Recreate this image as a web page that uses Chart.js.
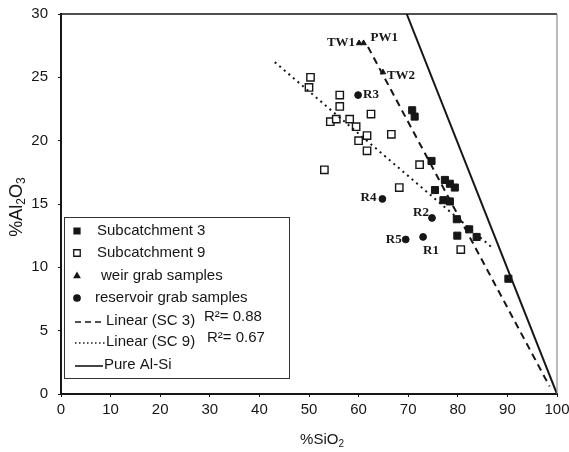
<!DOCTYPE html>
<html>
<head>
<meta charset="utf-8">
<script src="https://cdn.jsdelivr.net/npm/chart.js@4.4.1/dist/chart.umd.min.js"></script>
<style>
  html, body { margin: 0; padding: 0; background: #fff; }
  #wrap { width: 569px; height: 452px; }
</style>
</head>
<body>
<div id="wrap"><canvas id="chart" width="569" height="452"></canvas></div>
<script>
/* ── Datos ────────────────────────────────────────── */
const xTicks = [0, 10, 20, 30, 40, 50, 60, 70, 80, 90, 100];
const yTicks = [0, 5, 10, 15, 20, 25, 30];

// Subcatchment 3 (cuadros rellenos)
const sc3X = [70.8, 71.3, 74.7, 75.4, 77.4, 78.4, 79.4, 77.1, 78.4, 79.8, 79.9, 82.3, 83.8, 90.2];
const sc3Y = [22.4, 21.9, 18.4, 16.1, 16.9, 16.6, 16.3, 15.3, 15.2, 13.8, 12.5, 13.0, 12.4, 9.1];

// Subcatchment 9 (cuadros vacíos)
const sc9X = [50.3, 50.0, 56.2, 56.2, 54.3, 55.5, 58.2, 59.5, 62.5, 61.7, 60.0, 61.7, 66.6, 53.1, 72.3, 68.2, 80.6];
const sc9Y = [25.0, 24.2, 23.6, 22.7, 21.5, 21.7, 21.7, 21.1, 22.1, 20.4, 20.0, 19.2, 20.5, 17.7, 18.1, 16.3, 11.4];

// weir grab samples
const weirNames = ['TW1', 'PW1', 'TW2'];
const weirX = [60.1, 61.0, 64.9];
const weirY = [27.7, 27.7, 25.4];

// reservoir grab samples
const resNames = ['R1', 'R2', 'R3', 'R4', 'R5'];
const resX = [73.0, 74.8, 59.9, 64.8, 69.5];
const resY = [12.4, 13.9, 23.6, 15.4, 12.2];

// líneas de tendencia
const sc3FitX = [61.9, 98.5], sc3FitY = [27.4, 0.6];
const sc9FitX = [43.1, 87.1], sc9FitY = [26.2, 11.5];
const pureX = [69.7, 100], pureY = [30, 0];

const legendLabels = ['Subcatchment 3', 'Subcatchment 9', 'weir grab samples', 'reservoir grab samples',
                      'Linear (SC 3)', 'Linear (SC 9)', 'Pure Al-Si'];
const r2Labels = ['', '', '', '', 'R\u00B2= 0.88', 'R\u00B2= 0.67', ''];

/* ── Estilos ──────────────────────────────────────── */
const INK = '#161616';
const SANS = '"Liberation Sans", Arial, sans-serif';
const SERIF = '"Liberation Serif", "Times New Roman", serif';

// desplazamiento de cada etiqueta respecto a su punto: [dx, dy, align]
const weirLabelPos = [[-4, 0, 'right'], [7, -5, 'left'], [4, 3, 'left']];
const resLabelPos  = [[0, 14, 'left'], [-3, -5, 'right'], [5, 0, 'left'], [-6, -1, 'right'], [-4, 0, 'right']];

const pts = (xs, ys) => xs.map((x, i) => ({ x, y: ys[i] }));

const lineDs = (label, data, dash, width) => ({
  label, data, showLine: true, borderColor: INK, borderWidth: width,
  borderDash: dash, pointRadius: 0, fill: false
});

/* ── Plugins ──────────────────────────────────────── */
const frame = {
  id: 'frame',
  afterDraw(chart) {
    const { ctx, chartArea: a } = chart;
    ctx.save();
    ctx.strokeStyle = INK;
    ctx.lineWidth = 1.5;
    ctx.beginPath();
    ctx.moveTo(a.left, a.top); ctx.lineTo(a.right, a.top);
    ctx.stroke();
    ctx.strokeStyle = '#777';
    ctx.lineWidth = 1;
    ctx.beginPath();
    ctx.moveTo(a.right, a.top); ctx.lineTo(a.right, a.bottom);
    ctx.stroke();
    ctx.restore();
  }
};

const pointLabels = {
  id: 'pointLabels',
  afterDatasetsDraw(chart) {
    const { ctx } = chart;
    ctx.save();
    ctx.font = 'bold 13px ' + SERIF;
    ctx.fillStyle = INK;
    ctx.textBaseline = 'middle';
    const put = (dsIndex, names, pos) => {
      chart.getDatasetMeta(dsIndex).data.forEach((el, i) => {
        const [dx, dy, align] = pos[i];
        ctx.textAlign = align;
        ctx.fillText(names[i], el.x + dx, el.y + dy);
      });
    };
    put(5, weirNames, weirLabelPos);
    put(6, resNames, resLabelPos);
    ctx.restore();
  }
};

const boxLegend = {
  id: 'boxLegend',
  afterDraw(chart) {
    const { ctx } = chart;
    const H = Chart.helpers;
    const bx = 64, by = 217, bw = 225, bh = 161;
    const rows = [231, 253, 276, 298, 321, 342, 365];
    const textX = [97, 97, 101, 95, 106, 106, 104];
    const mx = 77;
    ctx.save();
    ctx.fillStyle = '#fff';
    ctx.fillRect(bx, by, bw, bh);
    ctx.strokeStyle = '#333';
    ctx.lineWidth = 1;
    ctx.strokeRect(bx + 0.5, by + 0.5, bw, bh);

    // marcadores
    const mark = (i, style, radius, fill) => {
      ctx.fillStyle = fill;
      ctx.strokeStyle = INK;
      ctx.lineWidth = 1.3;
      H.drawPoint(ctx, { pointStyle: style, radius, borderWidth: 1.3, rotation: 0 }, mx, rows[i]);
    };
    mark(0, 'rect', 4.2, INK);
    mark(1, 'rect', 4.6, '#fff');
    mark(2, 'triangle', 3.2, INK);
    mark(3, 'circle', 3.2, INK);

    // muestras de línea
    const sample = (i, dash, x1) => {
      ctx.strokeStyle = INK;
      ctx.lineWidth = 1.6;
      ctx.setLineDash(dash);
      ctx.beginPath();
      ctx.moveTo(75, rows[i] + 1); ctx.lineTo(x1, rows[i] + 1);
      ctx.stroke();
    };
    sample(4, [6, 4], 105);
    sample(5, [1.5, 2.5], 105);
    sample(6, [], 103);
    ctx.setLineDash([]);

    ctx.fillStyle = INK;
    ctx.font = '15px ' + SANS;
    ctx.textBaseline = 'middle';
    ctx.textAlign = 'left';
    legendLabels.forEach((t, i) => ctx.fillText(t, textX[i], rows[i]));
    ctx.fillText(r2Labels[4], 204, rows[4] - 4);
    ctx.fillText(r2Labels[5], 207, rows[5] - 4);
    ctx.restore();
  }
};

// texto con subíndices: [[texto, esSub], ...]
function drawSubText(ctx, parts, size) {
  const subSize = Math.round(size * 0.68);
  let total = 0;
  parts.forEach(([t, sub]) => {
    ctx.font = (sub ? subSize : size) + 'px ' + SANS;
    total += ctx.measureText(t).width;
  });
  let x = -total / 2;
  parts.forEach(([t, sub]) => {
    ctx.font = (sub ? subSize : size) + 'px ' + SANS;
    ctx.fillText(t, x, sub ? size * 0.28 : 0);
    x += ctx.measureText(t).width;
  });
}

const axisTitles = {
  id: 'axisTitles',
  afterDraw(chart) {
    const { ctx } = chart;
    ctx.save();
    ctx.fillStyle = INK;
    ctx.textAlign = 'left';
    ctx.textBaseline = 'middle';
    ctx.translate(322, 440);
    drawSubText(ctx, [['%SiO', false], ['2', true]], 15);
    ctx.restore();

    ctx.save();
    ctx.fillStyle = INK;
    ctx.textAlign = 'left';
    ctx.textBaseline = 'middle';
    ctx.translate(17, 207);
    ctx.rotate(-Math.PI / 2);
    drawSubText(ctx, [['%Al', false], ['2', true], ['O', false], ['3', true]], 18);
    ctx.restore();
  }
};

/* ── Gráfico ──────────────────────────────────────── */
new Chart(document.getElementById('chart'), {
  type: 'scatter',
  data: {
    datasets: [
      lineDs('Pure Al-Si', pts(pureX, pureY), [], 2),
      lineDs('Linear (SC 3)', pts(sc3FitX, sc3FitY), [7, 5], 2),
      lineDs('Linear (SC 9)', pts(sc9FitX, sc9FitY), [2, 4], 2),
      { label: 'Subcatchment 9', data: pts(sc9X, sc9Y), pointStyle: 'rect', pointRadius: 5.2,
        pointBackgroundColor: '#fff', pointBorderColor: INK, pointBorderWidth: 1.4 },
      { label: 'Subcatchment 3', data: pts(sc3X, sc3Y), pointStyle: 'rect', pointRadius: 5,
        pointBackgroundColor: INK, pointBorderColor: INK, pointBorderWidth: 1 },
      { label: 'weir grab samples', data: pts(weirX, weirY), pointStyle: 'triangle', pointRadius: 3.2,
        pointBackgroundColor: INK, pointBorderColor: INK, pointBorderWidth: 1 },
      { label: 'reservoir grab samples', data: pts(resX, resY), pointStyle: 'circle', pointRadius: 3.4,
        pointBackgroundColor: INK, pointBorderColor: INK, pointBorderWidth: 1 }
    ]
  },
  options: {
    responsive: false,
    animation: false,
    layout: { padding: { top: 14, right: 12, left: 0, bottom: 0 } },
    plugins: { legend: { display: false }, tooltip: { enabled: false } },
    scales: {
      x: {
        type: 'linear', min: 0, max: 100,
        afterBuildTicks: s => { s.ticks = xTicks.map(v => ({ value: v })); },
        ticks: { color: INK, font: { family: SANS, size: 15 }, padding: 4, maxRotation: 0 },
        grid: { drawOnChartArea: false, drawTicks: true, tickLength: 3, color: INK },
        border: { color: INK, width: 2 },
        afterFit: s => { s.height = 58; s.paddingLeft = 0; s.paddingRight = 0; }
      },
      y: {
        type: 'linear', min: 0, max: 30,
        afterBuildTicks: s => { s.ticks = yTicks.map(v => ({ value: v })); },
        ticks: { color: INK, font: { family: SANS, size: 15 }, padding: 10 },
        grid: { drawOnChartArea: false, drawTicks: true, tickLength: 3, color: INK },
        border: { color: INK, width: 2 },
        afterFit: s => { s.width = 61; s.paddingTop = 0; s.paddingBottom = 0; }
      }
    }
  },
  plugins: [frame, pointLabels, boxLegend, axisTitles]
});
</script>
</body>
</html>
